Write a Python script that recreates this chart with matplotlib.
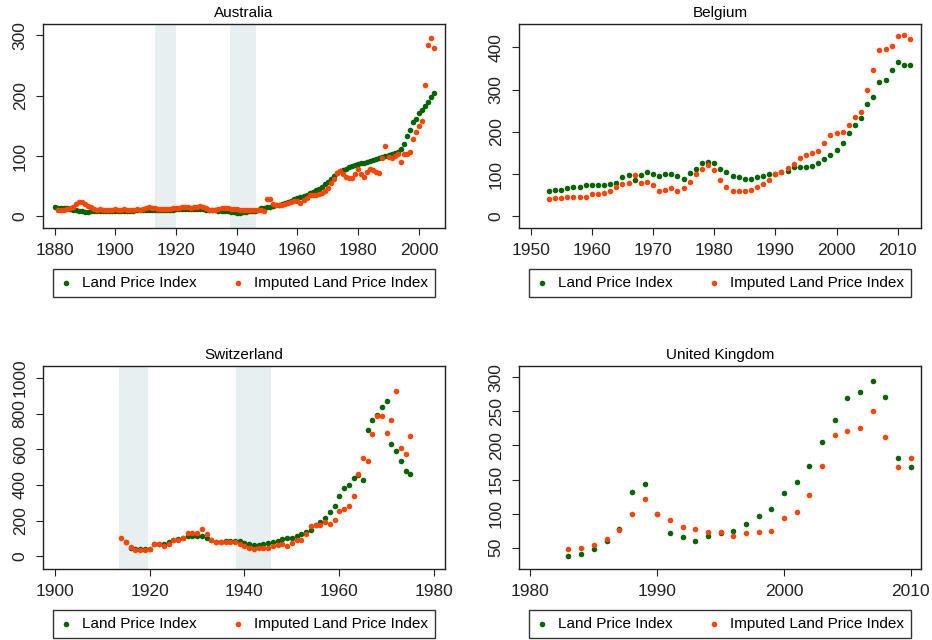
import numpy as np
import matplotlib
matplotlib.use("Agg")
import matplotlib.pyplot as plt

plt.rcParams["font.family"] = ["Liberation Sans", "DejaVu Sans"]

# --- data ---
aus_years = list(range(1880, 2006))
aus_lpi = [16, 14, 14, 13, 13, 12, 11, 10, 9, 9,
           7, 7, 8, 8, 9, 9, 9, 9, 9, 9,
           9, 9, 9, 9, 9, 9, 9, 10, 10, 10,
           10, 11, 11, 11, 11, 11, 11, 11, 11, 11,
           12, 12, 12, 12, 12, 12, 12, 12, 12, 12,
           11, 10, 10, 10, 9, 9, 8, 8, 7, 7,
           6, 6, 7, 7, 8, 8, 9, 11, 13, 13,
           15, 16, 17, 18, 19, 20, 22, 24, 26, 28,
           30, 32, 34, 36, 38, 40, 43, 46, 49, 53,
           57, 62, 67, 72, 75, 77, 79, 81, 83, 85,
           86, 88, 89, 90, 91, 93, 95, 97, 98, 100,
           101, 103, 105, 107, 111, 120, 133, 143, 157, 162,
           171, 177, 183, 189, 198, 205]
aus_imp = [np.nan, 10, 10, 11, 12, 14, 16, 20, 23, 24,
           20, 17, 15, 12, 10, 12, 11, 11, 10, 11,
           12, 10, 11, 12, 11, 10, 11, 12, 11, 12,
           13, 15, 14, 13, 12, 12, 12, 12, 12, 13,
           13, 14, 15, 15, 15, 14, 15, 16, 17, 15,
           13, 11, 10, 10, 12, 13, 13, 13, 12, 12,
           12, 11, 11, 10, 11, 11, 10, 10, 10, 8,
           28, 28, 20, 19, 18, 18, 20, 22, 24, 25,
           26, 22, 27, 31, 35, 36, 36, 37, 38, 42,
           47, 55, 62, 72, 75, 71, 65, 63, 63, 71,
           79, 71, 65, 74, 79, 77, 74, 72, 96, 117,
           99, 97, 100, 103, 90, 103, 104, 107, 128, 140,
           150, 158, 217, 284, 295, 280]

bel_years = list(range(1953, 2013))
bel_lpi = [60, 63, 63, 66, 70, 70, 73, 73, 73, 73,
           76, 79, 92, 98, 86, 98, 104, 101, 95, 101,
           101, 95, 89, 103, 111, 125, 128, 125, 112, 104,
           95, 92, 89, 89, 92, 95, 101, 101, 104, 106,
           116, 116, 116, 119, 125, 136, 146, 158, 173, 196,
           215, 233, 266, 283, 317, 323, 347, 366, 359, 359]
bel_imp = [40, 43, 43, 46, 46, 46, 46, 52, 52, 55,
           59, 70, 76, 79, 97, 79, 82, 73, 60, 63,
           66, 60, 66, 82, 100, 112, 122, 109, 87, 70,
           60, 60, 60, 63, 70, 76, 87, 100, 104, 114,
           124, 139, 146, 150, 154, 173, 193, 196, 200, 217,
           236, 247, 299, 345, 394, 397, 404, 426, 429, 420]

che_years = list(range(1914, 1976))
che_lpi = [np.nan, 78, 48, 40, 40, 40, 41, 67, 71, 67,
           78, 93, 97, 104, 112, 112, 112, 112, 100, 90,
           82, 82, 86, 86, 86, 86, 75, 67, 63, 63,
           71, 75, 78, 86, 97, 104, 104, 116, 123, 134,
           146, 175, 190, 216, 246, 280, 336, 381, 399, 437,
           455, 429, 709, 765, 791, 836, 869, 631, 593, 537,
           481, 459]
che_imp = [104, 82, 52, 34, 34, 34, 41, 67, 67, 56,
           71, 90, 90, 104, 131, 131, 131, 153, 123, 90,
           82, 82, 82, 82, 78, 71, 60, 48, 41, 48,
           45, 45, 56, 63, 67, 60, 75, 90, 93, 127,
           168, 175, 175, 190, 183, 201, 254, 265, 280, 340,
           459, 552, 537, 687, 787, 787, 694, 765, 929, 608,
           575, 672]

uk_years = list(range(1983, 2011))
uk_lpi = [37, 41, 48, 60, 78, 132, 143, 100, 72, 66,
          60, 67, 72, 74, 84, 97, 106, 130, 147, 170,
          205, 238, 269, 279, 295, 271, 182, 168]
uk_imp = [48, 50, 54, 63, 76, 100, 121, 100, 91, 81,
          77, 73, 73, 67, 71, 73, 75, 93, 102, 128,
          170, 215, 221, 226, 250, 213, 168, 181]

GREEN = "#006400"
ORANGE = "#FF4500"
BAND = "#e8eff1"

W, H = 932, 640
fig = plt.figure(figsize=(W / 100, H / 100), dpi=100)


def panel(rect, title, years, lpi, imp, xlim, ylim, xticks, yticks, bands):
    l, t, w, h = rect
    ax = fig.add_axes([l / W, 1 - (t + h) / H, w / W, h / H])
    for b0, b1 in bands:
        ax.axvspan(b0, b1, color=BAND, lw=0, zorder=0)
    ax.scatter(years, lpi, s=16, color=GREEN, lw=0, zorder=2, label="Land Price Index")
    ax.scatter(years, imp, s=16, color=ORANGE, lw=0, zorder=3, label="Imputed Land Price Index")
    ax.set_xlim(*xlim)
    ax.set_ylim(*ylim)
    ax.set_xticks(xticks)
    ax.set_yticks(yticks)
    ax.tick_params(direction="out", length=5, width=0.8, labelsize=12.5, pad=6, colors="#222222")
    for lab in ax.get_yticklabels():
        lab.set_rotation(90)
        lab.set_va("center")
    for sp in ax.spines.values():
        sp.set_linewidth(1.0)
        sp.set_color("#222222")
    ax.set_title(title, fontsize=11, pad=5)
    # legend box sits about 41px under the axes, 30px tall
    top = -41 / h
    hgt = 30 / h
    ax.legend(loc="upper left", bbox_to_anchor=(0.025, top - hgt, 0.95, hgt), mode="expand",
              ncol=2, fontsize=11, frameon=True, fancybox=False, edgecolor="black",
              handlelength=0.8, handletextpad=0.65, borderaxespad=0, borderpad=0.45)
    ax.get_legend().get_frame().set_linewidth(1.0)
    return ax


panel((43, 24, 402, 204), "Australia", aus_years, aus_lpi, aus_imp,
      (1876.2, 2008.6), (-19.4, 319), range(1880, 2001, 20), [0, 100, 200, 300],
      [(1913, 1920), (1937.8, 1946.2)])
panel((519, 24, 402, 204), "Belgium", bel_years, bel_lpi, bel_imp,
      (1948.1, 2013.8), (-27.7, 455), range(1950, 2011, 10), [0, 100, 200, 300, 400],
      [])
panel((43, 366, 402, 203), "Switzerland", che_years, che_lpi, che_imp,
      (1897.5, 1982.3), (-71, 1067), range(1900, 1981, 20), [0, 200, 400, 600, 800, 1000],
      [(1913.5, 1919.6), (1938.2, 1945.6)])
panel((519, 366, 402, 203), "United Kingdom", uk_years, uk_lpi, uk_imp,
      (1979.1, 2010.8), (18.6, 316.7), range(1980, 2011, 10), [50, 100, 150, 200, 250, 300],
      [])

plt.savefig("out.png", dpi=100)
